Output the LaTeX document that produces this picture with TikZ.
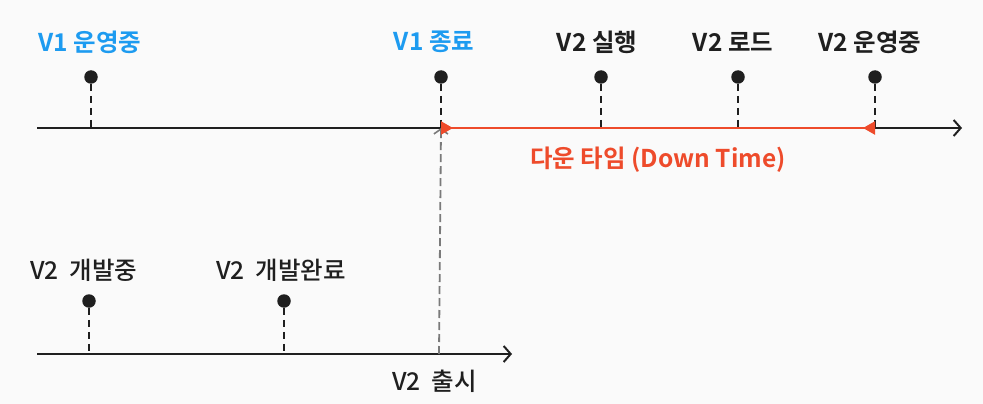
\documentclass[tikz,border=0pt]{standalone}
\usepackage{fontspec}
\setmainfont{Noto Sans CJK KR}
\newfontfamily\krbold{Noto Sans CJK KR Bold}
\newfontfamily\krmed{Noto Sans CJK KR Medium}
\usetikzlibrary{arrows.meta}
\definecolor{bgc}{HTML}{FAFAFA}
\definecolor{ink}{HTML}{1F1F1F}
\definecolor{skyblue}{HTML}{1D9BF0}
\definecolor{downred}{HTML}{EE4B2B}
\definecolor{guide}{HTML}{7A7A7A}
\tikzset{
  axis/.style={draw=ink, line width=2.2pt, -{Straight Barb[length=7pt,width=16pt,line width=2pt]}},
  dot/.style={circle, fill=ink, inner sep=0pt, minimum size=13.5pt},
  tick/.style={draw=ink, line width=2.2pt, dash pattern=on 7pt off 5pt},
  toplabel/.style={font=\krbold\fontsize{24.5}{28}\selectfont, text=ink, inner sep=0pt},
  botlabel/.style={font=\krmed\fontsize{24.5}{28}\selectfont, text=ink, inner sep=0pt, anchor=west},
  downline/.style={draw=downred, line width=2.2pt, {Triangle[reversed,length=12pt,width=13pt]}-{Triangle[reversed,length=12pt,width=13pt]}},
  guideline/.style={draw=guide, line width=1.8pt, dash pattern=on 8pt off 4pt, -{Straight Barb[length=5pt,width=14pt,line width=1.6pt]}}
}
\begin{document}
\begin{tikzpicture}[x=1pt,y=-1pt]
\fill[bgc] (0,0) rectangle (983,404);
\useasboundingbox (0,0) rectangle (983,404);
% top axis
\coordinate (t0) at (37,128);
\coordinate (t1) at (962,128);
\coordinate (a1) at (91,128);
\coordinate (a2) at (441,128);
\coordinate (a3) at (601,128);
\coordinate (a4) at (738,128);
\coordinate (a5) at (875,128);
\draw[axis] (t0) -- (t1);
\node[dot] (d1) at (91,77) {};
\node[dot] (d2) at (441,77) {};
\node[dot] (d3) at (601,77) {};
\node[dot] (d4) at (738,77) {};
\node[dot] (d5) at (875,77) {};
\draw[tick] (d1) -- (a1);
\draw[tick] (d2) -- (a2);
\draw[tick] (d3) -- (a3);
\draw[tick] (d4) -- (a4);
\draw[tick] (d5) -- (a5);
\node[toplabel, text=skyblue] (l1) at (90,42) {V1 운영중};
\node[toplabel, text=skyblue] (l2) at (434,42) {V1 종료};
\node[toplabel] (l3) at (597,42) {V2 실행};
\node[toplabel] (l4) at (733,42) {V2 로드};
\node[toplabel] (l5) at (870,42) {V2 운영중};
% bottom axis
\coordinate (b0) at (37,354);
\coordinate (b1) at (512,354);
\coordinate (c1) at (89,354);
\coordinate (c2) at (284,354);
\coordinate (c3) at (439,354);
\draw[axis] (b0) -- (b1);
\node[dot] (e1) at (89,301) {};
\node[dot] (e2) at (284,301) {};
\draw[tick] (e1) -- (c1);
\draw[tick] (e2) -- (c2);
\node[botlabel] (m1) at (30,270) {V2\ \ 개발중};
\node[botlabel] (m2) at (216,270) {V2\ \ 개발완료};
\node[botlabel] (m3) at (392,381) {V2\ \ 출시};
% guide and down time
\draw[guideline] (c3) -- (a2);
\draw[downline] (a2) -- (a5);
\node[toplabel, text=downred] (dt) at (658,160) {다운 타임 (Down Time)};
\end{tikzpicture}
\end{document}
